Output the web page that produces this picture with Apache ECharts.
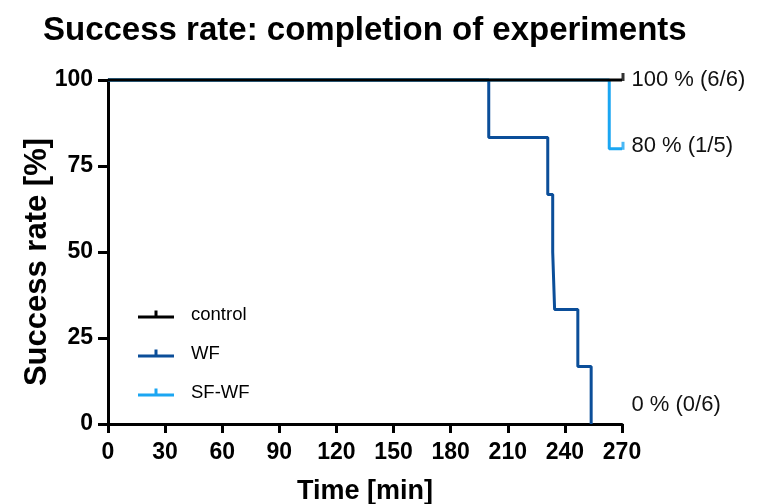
<!DOCTYPE html>
<html>
<head>
<meta charset="utf-8">
<script src="https://cdn.jsdelivr.net/npm/echarts@6/dist/echarts.min.js"></script>
<style>
html,body{margin:0;padding:0;background:#fff;}
#chart{width:758px;height:504px;}
</style>
</head>
<body>
<div id="chart"></div>
<script>
// ---- data ----
const seriesNames = ['control', 'WF', 'SF-WF'];
const controlTimes = [0, 270];
const controlRates = [100, 100];
const wfTimes = [0, 200, 231, 233.6, 234.6, 246.8, 253.8];
const wfRates = [100, 83.3, 66.7, 50, 33.3, 16.7, 0];
const sfwfTimes = [0, 263.3, 270];
const sfwfRates = [100, 80, 80];
const censorControl = [[270, 100]];
const censorSfwf = [[270, 80]];
const endLabels = ['100 % (6/6)', '0 % (0/6)', '80 % (1/5)'];
const xTicks = [0, 30, 60, 90, 120, 150, 180, 210, 240, 270];
const yTicks = [0, 25, 50, 75, 100];

const colors = { control: '#000000', WF: '#0B4E99', 'SF-WF': '#1BA6F2' };
const FONT = '"Liberation Sans", Arial, sans-serif';

function zip(xs, ys) { return xs.map((x, i) => [x, ys[i]]); }

const legendIcon = 'path://M0,5 L16.5,5 L16.5,0 L19.5,0 L19.5,5 L36,5 L36,8 L0,8 Z';

function lineSeries(name, times, rates, label, labelOffset) {
  return {
    name: name,
    type: 'line',
    step: 'end',
    data: zip(times, rates),
    showSymbol: false,
    symbol: 'none',
    clip: false,
    color: colors[name],
    lineStyle: { width: 3, color: colors[name] },
    z: name === 'control' ? 5 : 3,
    markPoint: {
      symbol: 'circle',
      symbolSize: 1,
      itemStyle: { color: 'rgba(0,0,0,0)' },
      silent: true,
      data: [{
        coord: [270, rates[rates.length - 1]],
        label: {
          show: true,
          position: 'right',
          distance: 9,
          offset: labelOffset,
          formatter: label,
          fontFamily: FONT,
          fontSize: 22,
          color: '#111'
        }
      }]
    }
  };
}

function censorSeries(name, pts) {
  return {
    name: name + ' censored',
    type: 'scatter',
    data: pts,
    symbol: 'rect',
    symbolSize: [3, 8],
    symbolOffset: [1, -3],
    clip: false,
    itemStyle: { color: colors[name] },
    z: 6,
    silent: true
  };
}

const chart = echarts.init(document.getElementById('chart'), null, { renderer: 'canvas' });
chart.setOption({
  animation: false,
  backgroundColor: '#fff',
  title: {
    text: 'Success rate: completion of experiments',
    left: 38,
    top: 9,
    textStyle: { fontFamily: FONT, fontSize: 33, fontWeight: 'bold', color: '#000' }
  },
  legend: {
    data: seriesNames.map(n => ({ name: n, icon: legendIcon })),
    orient: 'vertical',
    left: 133,
    top: 300,
    itemWidth: 36,
    itemHeight: 8,
    itemGap: 20,
    textStyle: { fontFamily: FONT, fontSize: 18.5, color: '#000', padding: [3, 0, 0, 12] },
    selectedMode: false
  },
  grid: { left: 108, right: 136, top: 80, bottom: 80, containLabel: false, outerBoundsMode: 'none' },
  xAxis: {
    type: 'value',
    min: 0,
    max: 270,
    interval: 30,
    name: 'Time [min]',
    nameLocation: 'middle',
    nameGap: 54,
    nameTextStyle: { fontFamily: FONT, fontSize: 27, fontWeight: 'bold', color: '#000' },
    axisLine: { show: true, lineStyle: { color: '#000', width: 3 } },
    axisTick: { show: true, length: 9, lineStyle: { color: '#000', width: 3 } },
    axisLabel: {
      fontFamily: FONT, fontSize: 23, fontWeight: 'bold', color: '#000', margin: 17,
      customValues: xTicks
    },
    splitLine: { show: false }
  },
  yAxis: {
    type: 'value',
    min: 0,
    max: 100,
    interval: 25,
    name: 'Success rate [%]',
    nameLocation: 'middle',
    nameGap: 55,
    nameRotate: 90,
    nameMoveOverlap: false,
    nameTextStyle: { fontFamily: FONT, fontSize: 31, fontWeight: 'bold', color: '#000', padding: [0, 20, 0, 0] },
    axisLine: { show: true, lineStyle: { color: '#000', width: 3 } },
    axisTick: { show: true, length: 10, lineStyle: { color: '#000', width: 3 } },
    axisLabel: { fontFamily: FONT, fontSize: 23, fontWeight: 'bold', color: '#000', margin: 15, customValues: yTicks },
    splitLine: { show: false }
  },
  series: [
    lineSeries('WF', wfTimes, wfRates, endLabels[1], [0, -19]),
    lineSeries('SF-WF', sfwfTimes, sfwfRates, endLabels[2], [0, -3]),
    lineSeries('control', controlTimes, controlRates, endLabels[0], [0, 0]),
    censorSeries('control', censorControl),
    censorSeries('SF-WF', censorSfwf)
  ]
});
</script>
</body>
</html>
